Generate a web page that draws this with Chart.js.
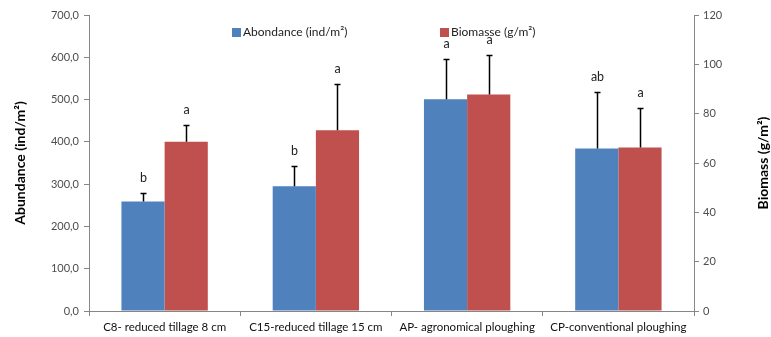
<!DOCTYPE html>
<html>
<head>
<meta charset="utf-8">
<script src="https://cdn.jsdelivr.net/npm/chart.js@4/dist/chart.umd.min.js"></script>
<style>
  html, body { margin: 0; padding: 0; background: #fff; }
  #wrap { width: 771px; height: 337px; position: relative; }
</style>
</head>
<body>
<div id="wrap"><canvas id="chart"></canvas></div>
<script>
(function () {
  'use strict';

  var CATEGORIES = ['C8- reduced tillage 8 cm', 'C15-reduced tillage 15 cm', 'AP- agronomical ploughing', 'CP-conventional ploughing'];
  var ABUNDANCE = [259, 295, 501, 384];
  var ABUNDANCE_ERR = [20, 49, 95, 133];
  var ABUNDANCE_LETTERS = ['b', 'b', 'a', 'ab'];
  var BIOMASS = [68.6, 73.3, 87.8, 66.3];
  var BIOMASS_ERR = [6.9, 18.9, 16.1, 15.8];
  var BIOMASS_LETTERS = ['a', 'a', 'a', 'a'];

  var BLUE = '#4f81bd';
  var RED = '#c0504d';
  var AXIS_GREY = '#868686';
  var FONT = 'Lato, "Open Sans", sans-serif';

  // upward error bars plus the significance letters above them
  var errorBars = {
    id: 'errorBars',
    afterDatasetsDraw: function (chart) {
      var ctx = chart.ctx;
      var sets = [
        { idx: 0, axis: 'y', vals: ABUNDANCE, err: ABUNDANCE_ERR, letters: ABUNDANCE_LETTERS },
        { idx: 1, axis: 'y1', vals: BIOMASS, err: BIOMASS_ERR, letters: BIOMASS_LETTERS }
      ];
      ctx.save();
      sets.forEach(function (s) {
        var meta = chart.getDatasetMeta(s.idx);
        var scale = chart.scales[s.axis];
        meta.data.forEach(function (bar, i) {
          var x = Math.round(bar.x) + 0.5;
          var yTop = scale.getPixelForValue(s.vals[i]);
          var yErr = Math.round(scale.getPixelForValue(s.vals[i] + s.err[i])) + 0.5;
          ctx.strokeStyle = '#000';
          ctx.lineWidth = 1.5;
          ctx.beginPath();
          ctx.moveTo(x, yTop);
          ctx.lineTo(x, yErr);
          ctx.moveTo(x - 3, yErr);
          ctx.lineTo(x + 3, yErr);
          ctx.stroke();
          ctx.fillStyle = '#222';
          ctx.font = '12.5px ' + FONT;
          ctx.textAlign = 'center';
          ctx.textBaseline = 'middle';
          ctx.fillText(s.letters[i], x, yErr - 16);
        });
      });
      ctx.restore();
    }
  };

  // legend sits inside the plot, and both axis titles read bottom-to-top
  var decorations = {
    id: 'decorations',
    afterDraw: function (chart) {
      var ctx = chart.ctx;
      var area = chart.chartArea;
      var items = [
        { color: BLUE, text: 'Abondance (ind/m²)', x: area.left + 143 },
        { color: RED, text: 'Biomasse (g/m²)', x: area.left + 351 }
      ];
      ctx.save();
      ctx.font = '12px ' + FONT;
      ctx.textBaseline = 'middle';
      ctx.textAlign = 'left';
      items.forEach(function (it) {
        ctx.fillStyle = it.color;
        ctx.fillRect(it.x, 28, 9, 9);
        ctx.fillStyle = '#222';
        ctx.fillText(it.text, it.x + 11, 32);
      });

      ctx.font = 'bold 14px ' + FONT;
      ctx.fillStyle = '#000';
      ctx.textAlign = 'center';
      var midY = (area.top + area.bottom) / 2;
      ctx.translate(20, midY);
      ctx.rotate(-Math.PI / 2);
      ctx.fillText('Abundance (ind/m²)', 0, 0);
      ctx.setTransform(1, 0, 0, 1, 0, 0);
      ctx.translate(763, midY);
      ctx.rotate(-Math.PI / 2);
      ctx.fillText('Biomass (g/m²)', 0, 0);
      ctx.restore();
    }
  };

  new Chart(document.getElementById('chart'), {
    type: 'bar',
    data: {
      labels: CATEGORIES,
      datasets: [
        { label: 'Abondance (ind/m²)', data: ABUNDANCE, backgroundColor: BLUE, yAxisID: 'y' },
        { label: 'Biomasse (g/m²)', data: BIOMASS, backgroundColor: RED, yAxisID: 'y1' }
      ]
    },
    options: {
      responsive: true,
      maintainAspectRatio: false,
      animation: false,
      layout: { padding: { top: 15, left: 0, right: 0, bottom: 0 } },
      categoryPercentage: 0.571,
      barPercentage: 1,
      plugins: {
        legend: { display: false },
        tooltip: { enabled: false }
      },
      scales: {
        x: {
          afterFit: function (s) { s.height = 26; },
          border: { color: AXIS_GREY, width: 1 },
          grid: { drawOnChartArea: false, tickLength: 5, color: AXIS_GREY },
          ticks: { color: '#111', font: { family: FONT, size: 11.5 }, padding: 4, maxRotation: 0, autoSkip: false }
        },
        y: {
          position: 'left',
          min: 0,
          max: 700,
          afterFit: function (s) { s.width = 89; },
          border: { color: AXIS_GREY, width: 1 },
          grid: { drawOnChartArea: false, tickLength: 5, color: AXIS_GREY },
          ticks: {
            stepSize: 100,
            color: '#4d4d4d',
            padding: 5,
            font: { family: FONT, size: 11 },
            callback: function (v) { return v.toFixed(1).replace('.', ','); }
          }
        },
        y1: {
          position: 'right',
          min: 0,
          max: 120,
          afterFit: function (s) { s.width = 77; },
          border: { color: AXIS_GREY, width: 1 },
          grid: { drawOnChartArea: false, tickLength: 5, color: AXIS_GREY },
          ticks: { stepSize: 20, color: '#4d4d4d', padding: 4, font: { family: FONT, size: 11 } }
        }
      }
    },
    plugins: [errorBars, decorations]
  });
})();
</script>
</body>
</html>
